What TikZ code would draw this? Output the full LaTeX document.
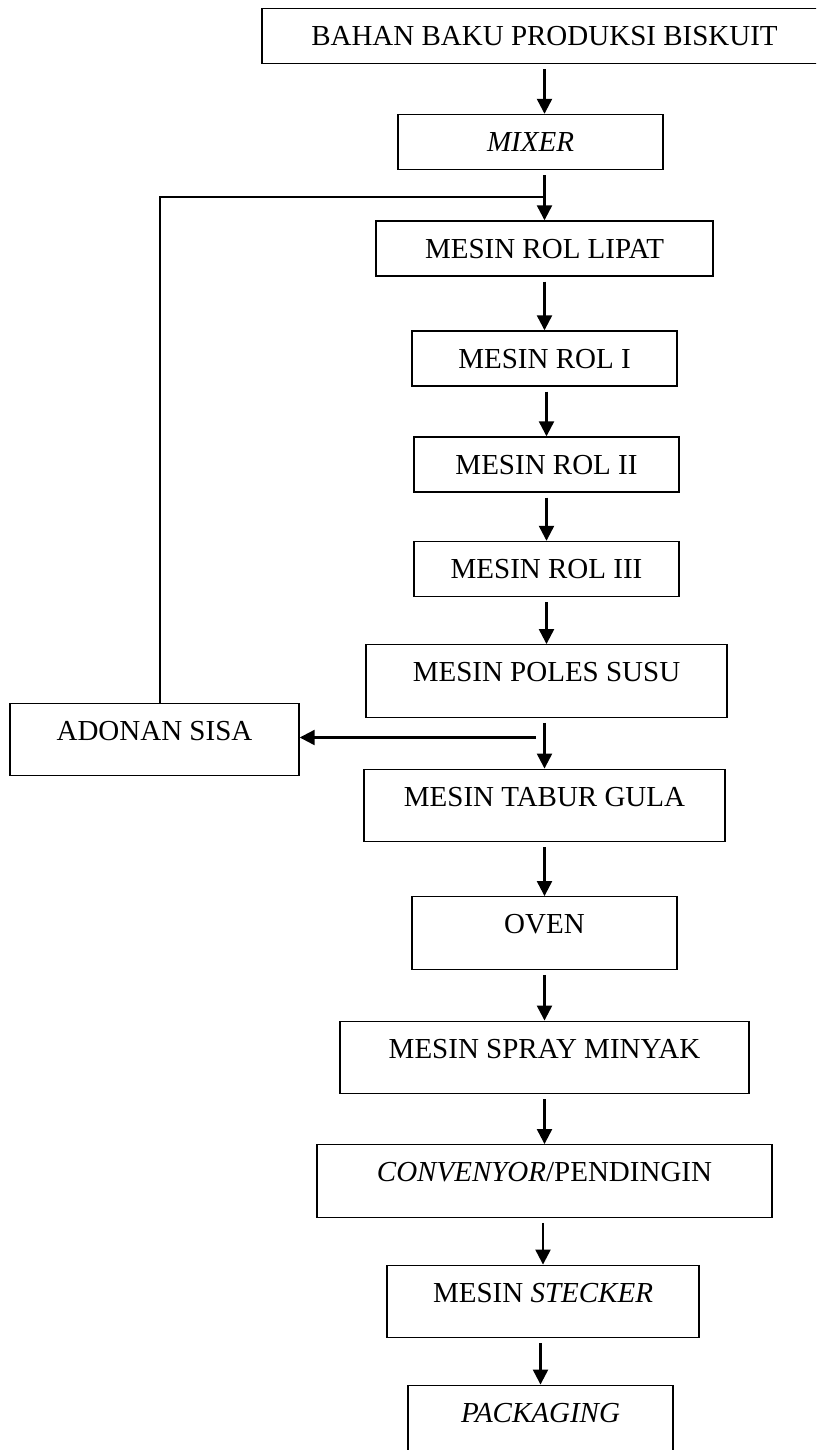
\documentclass[tikz,border=0pt]{standalone}
\usepackage{fontspec}
\setmainfont{Liberation Serif}
\usetikzlibrary{arrows.meta}

\begin{document}
\begin{tikzpicture}[
  x=1pt, y=-1pt,
  box/.style={draw, line width=1.4pt, inner xsep=2pt, inner ysep=17.9pt, text height=19.2pt, text depth=0pt, font=\fontsize{29}{34}\selectfont},
  tall/.style={text depth=17.5pt},
  line/.style={line width=2.3pt},
  arr/.style={line, -{Triangle[length=15pt, width=15pt]}, shorten <=5pt}
]
\path[use as bounding box, clip] (0,0) rectangle (816,1450);

\node[box, minimum width=565pt] (bahan) at (544.5,36) {BAHAN BAKU PRODUKSI BISKUIT};
\node[box, minimum width=265pt] (mixer) at (530.5,142) {\textit{MIXER}};
\node[box, minimum width=337pt] (lipat) at (544.5,248.5) {MESIN ROL LIPAT};
\node[box, minimum width=265pt] (rolsatu) at (544.5,358.5) {MESIN ROL I};
\node[box, minimum width=265pt] (roldua) at (546.5,464.5) {MESIN ROL II};
\node[box, minimum width=265pt] (roltiga) at (546.5,569) {MESIN ROL III};
\node[box, tall, minimum width=361pt] (poles) at (546.5,681) {MESIN POLES SUSU};
\node[box, tall, minimum width=289pt] (sisa) at (154.5,739.5) {ADONAN SISA};
\node[box, tall, minimum width=361pt] (tabur) at (544.5,805.5) {MESIN TABUR GULA};
\node[box, tall, minimum width=265pt] (oven) at (544.5,933) {OVEN};
\node[box, tall, minimum width=409pt] (spray) at (544.5,1057.5) {MESIN SPRAY MINYAK};
\node[box, tall, minimum width=455pt] (conv) at (544.5,1181) {\textit{CONVENYOR}/PENDINGIN};
\node[box, tall, minimum width=312pt] (stecker) at (543,1301.5) {MESIN \textit{STECKER}};
\node[box, tall, minimum width=265pt] (pack) at (540.5,1421.5) {\textit{PACKAGING}};

\draw[arr] (bahan.south) -- (bahan.south |- mixer.north);
\foreach \a/\b in {mixer/lipat, lipat/rolsatu, rolsatu/roldua, roldua/roltiga, roltiga/poles,
                   poles/tabur, tabur/oven, oven/spray, spray/conv, conv/stecker, stecker/pack}
  \draw[arr] (\a.south -| \b.north) -- (\b.north);

% adonan sisa kembali ke rol lipat
\coordinate (join) at (544.5,197);
\coordinate (split) at (536,737.5);
\draw[arr, shorten <=0pt] (split) -- (sisa.east |- split);
\draw[line] ([xshift=5.5pt]sisa.north) |- (join);
\end{tikzpicture}
\end{document}
